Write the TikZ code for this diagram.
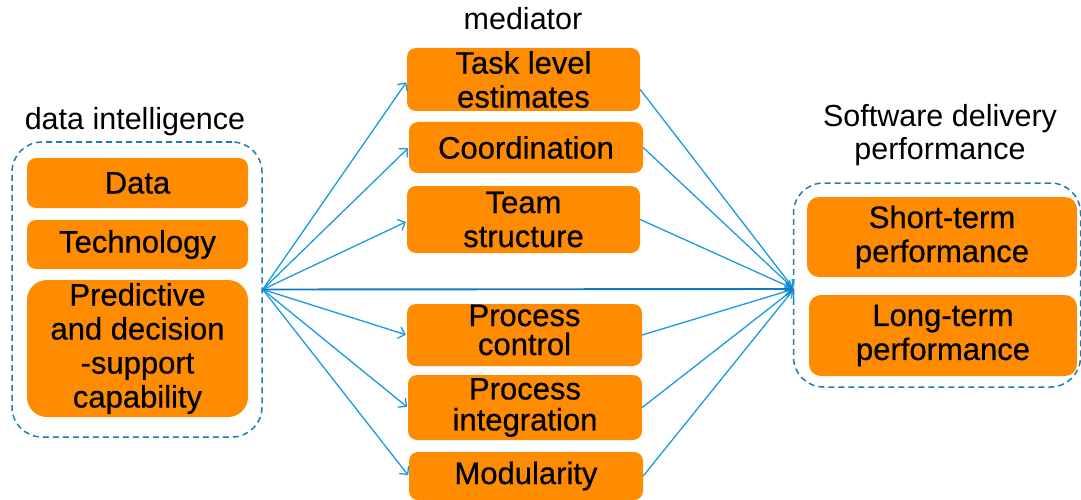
\documentclass[tikz,border=0pt]{standalone}
\usepackage{fontspec}
\setmainfont{Liberation Sans}
\newfontfamily\boxfont[FakeBold=0.6]{Liberation Sans}
\usetikzlibrary{arrows.meta}
\definecolor{boxorange}{RGB}{255,140,0}
\definecolor{groupblue}{RGB}{30,125,175}
\definecolor{linkblue}{RGB}{25,155,225}
\definecolor{mainblue}{RGB}{20,120,195}
\tikzset{
  box/.style={fill=boxorange, rounded corners=9pt, inner sep=0pt, align=center,
    font=\boxfont\fontsize{31}{34}\selectfont},
  group/.style={draw=groupblue, line width=1.5pt, dash pattern=on 6pt off 4pt,
    rounded corners=30pt, inner sep=0pt},
  title/.style={font=\fontsize{30.5}{33}\selectfont, anchor=base, align=center},
  link/.style={draw=linkblue, line width=1.3pt,
    -{Straight Barb[length=6pt,width=12pt,line width=1.3pt]}, shorten >=1pt},
  mainlink/.style={draw=mainblue, line width=1.9pt,
    -{Straight Barb[length=7pt,width=13pt,line width=1.7pt]}}
}
\begin{document}
\begin{tikzpicture}[x=1pt,y=-1pt]
\useasboundingbox (0,0) rectangle (1081,500);

% group frames
\node[group, minimum width=250pt, minimum height=295pt] (left) at (137,289.5) {};
\node[group, minimum width=287pt, minimum height=204pt] (right) at (937,285) {};
\coordinate (rhub) at (794,289);

% group titles
\node[title] (tleft) at (135,129) {data intelligence};
\node[title] (tmid) at (523,30) {mediator};
\node[title] (tright) at (940,160) {Software delivery\\performance};

% antecedents
\node[box, minimum width=221pt, minimum height=50pt] (data) at (137.5,183) {Data};
\node[box, minimum width=221pt, minimum height=49pt] (tech) at (137.5,244.5) {Technology};
\node[box, rounded corners=20pt, minimum width=221pt, minimum height=137pt] (pred) at (137.5,348.5)
  {Predictive\\and decision\\-support\\capability};

% mediators
\node[box, minimum width=233pt, minimum height=63pt] (task) at (523.5,79.5) {Task level\\estimates};
\node[box, minimum width=234pt, minimum height=51pt] (coord) at (526,147.5) {Coordination};
\node[box, minimum width=233pt, minimum height=67pt] (team) at (523.5,219.5) {Team\\structure};
\node[box, minimum width=235pt, minimum height=62pt] (pctrl) at (524.5,335) {};
\node[font=\boxfont\fontsize{31}{29}\selectfont, align=center, inner sep=0pt] (pctrltext) at (524.5,330) {Process\\control};
\node[box, minimum width=234pt, minimum height=65pt, font=\boxfont\fontsize{31}{31}\selectfont] (pint) at (525,407.5) {Process\\integration};
\node[box, minimum width=234pt, minimum height=48pt] (modu) at (526,476) {Modularity};

% outcomes
\node[box, rounded corners=12pt, minimum width=270pt, minimum height=80pt] (short) at (942,237) {Short-term\\performance};
\node[box, rounded corners=12pt, minimum width=268pt, minimum height=81pt] (long) at (943,335.5) {Long-term\\performance};

% paths into the mediators
\draw[link] (left.east) -- ([yshift=-2pt]task.west);
\draw[link] (left.east) -- (coord.west);
\draw[link] (left.east) -- ([yshift=-2pt]team.west);
\draw[link] (left.east) -- (pctrl.west);
\draw[link] (left.east) -- (pint.west);
\draw[link] (left.east) -- (modu.west);

% paths out of the mediators
\draw[link] ([yshift=-10pt]task.east) -- (rhub);
\draw[link] (coord.east) -- (rhub);
\draw[link] (team.east) -- (rhub);
\draw[link] (pctrl.east) -- (rhub);
\draw[link] (pint.east) -- (rhub);
\draw[link] (modu.east) -- (rhub);

% direct effect
\draw[mainlink] (left.east) -- (rhub);
\end{tikzpicture}
\end{document}
